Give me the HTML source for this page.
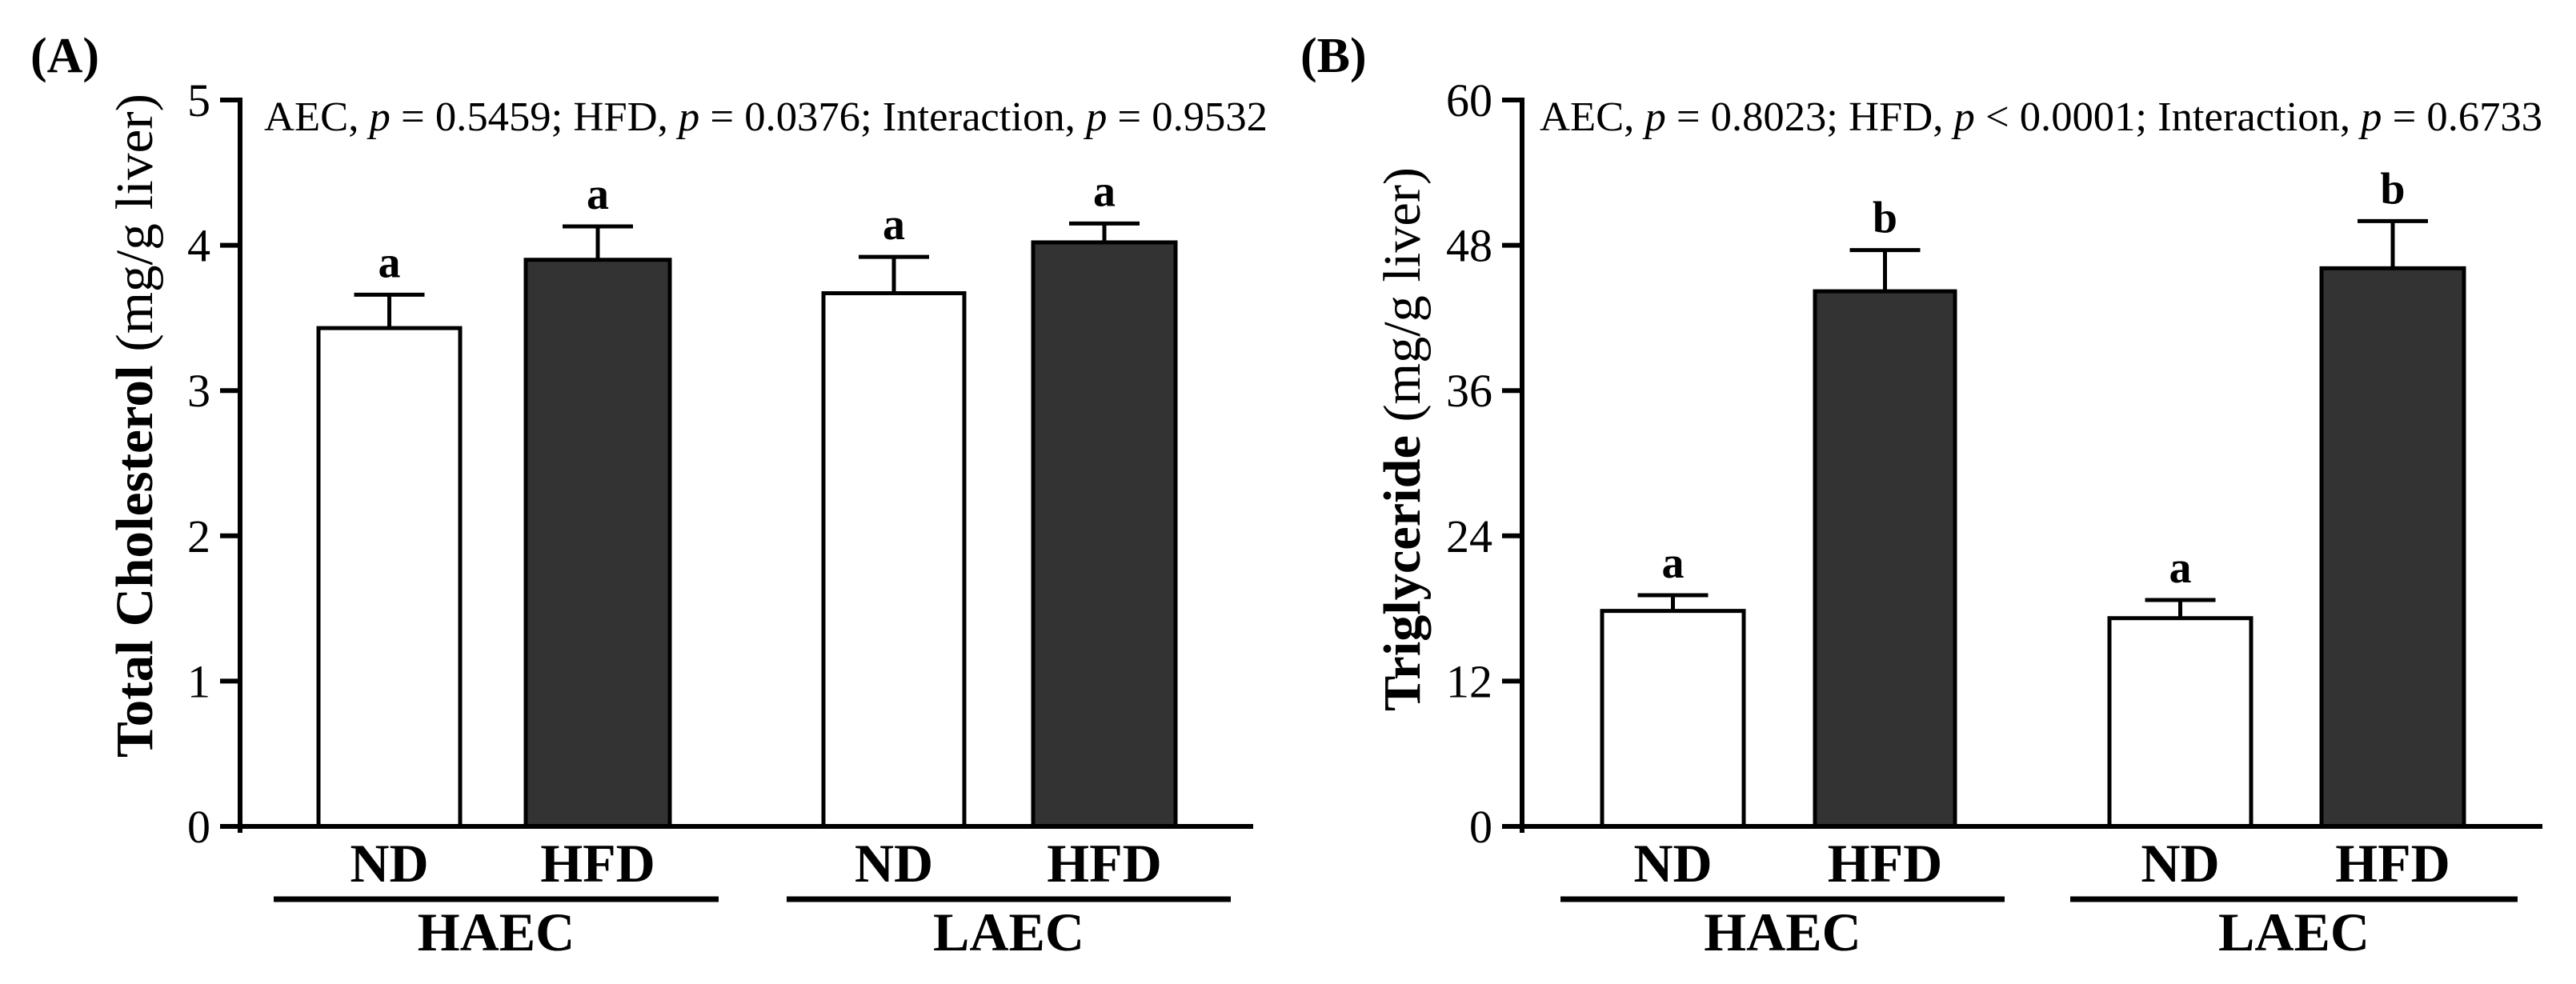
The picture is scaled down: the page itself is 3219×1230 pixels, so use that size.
<!DOCTYPE html>
<html><head><meta charset="utf-8"><style>
html,body{margin:0;padding:0;background:#fff;}
svg{display:block;font-family:"Liberation Serif","Times New Roman",serif;}
</style></head><body>
<svg id="fig" width="3219" height="1230" viewBox="0 0 3219 1230" xmlns="http://www.w3.org/2000/svg"></svg>
<script>
const groupsA = ["ND","HFD","ND","HFD"];
const valuesA = [3.43, 3.90, 3.67, 4.02];
const errorsA = [0.23, 0.23, 0.25, 0.13];
const lettersA = ["a","a","a","a"];
const ticksA = [0,1,2,3,4,5];
const valuesB = [17.8, 44.2, 17.2, 46.1];
const errorsB = [1.3, 3.4, 1.5, 3.9];
const lettersB = ["b","b","b","b"].map((x,i)=>["a","b","a","b"][i]);
const ticksB = [0,12,24,36,48,60];
const fills = ["#ffffff","#333333","#ffffff","#333333"];
const NS = "http://www.w3.org/2000/svg";
const svg = document.getElementById('fig');
function mk(tag, attrs, parent){const e=document.createElementNS(NS,tag);for(const k in attrs)e.setAttribute(k,attrs[k]);(parent||svg).appendChild(e);return e;}

function panel(cfg){
  const g = mk('g',{});
  
  
  const y0=1033, yTop=125, ax=cfg.ax, axEnd=cfg.axEnd, max=cfg.ticks[cfg.ticks.length-1];
  const Y = v => y0 - (v/max)*(y0-yTop);
  // panel letter
  const pl = mk('text',{x:cfg.labelX,y:90,'font-size':62,'font-weight':'bold'},g); pl.textContent=cfg.label;
  
  
  // bars
  cfg.values.forEach((v,i)=>{
    const [l,r]=cfg.barX[i];
    const bar = mk('rect',{x:l,y:Y(v),width:r-l,height:y0-Y(v),fill:fills[i],stroke:'#000','stroke-width':5},g);
    
    
    const cx=(l+r)/2, ye=Y(v+cfg.errors[i]);
    const eb = mk('path',{d:`M${cx},${Y(v)} V${ye} M${cx-44},${ye} H${cx+44}`,stroke:'#000','stroke-width':5,fill:'none'},g);
    
    
    const lt = mk('text',{x:cx,y:ye-22,'text-anchor':'middle','font-size':56,'font-weight':'bold'},g); lt.textContent=cfg.letters[i];
    
    
    const xl = mk('text',{x:cx,y:1102,'text-anchor':'middle','font-size':68,'font-weight':'bold'},g); xl.textContent=groupsA[i];
    
    
  });
  // axes
  const axes = mk('path',{d:`M${ax},${yTop-3} V${y0+8} M${ax-6},${y0} H${axEnd}`,stroke:'#000','stroke-width':6,fill:'none'},g);
  
  
  cfg.ticks.forEach(t=>{
    const tk = mk('line',{x1:ax-25,x2:ax,y1:Y(t),y2:Y(t),stroke:'#000','stroke-width':6},g);
    
    
    const tl = mk('text',{x:ax-37,y:Y(t)+20,'text-anchor':'end','font-size':58},g); tl.textContent=t;
    
    
  });
  // group lines
  cfg.groupLines.forEach((gl,i)=>{
    const ln = mk('line',{x1:gl[0],x2:gl[1],y1:1124,y2:1124,stroke:'#000','stroke-width':7},g);
    
    
    const gt = mk('text',{x:(gl[0]+gl[1])/2,y:1188,'text-anchor':'middle','font-size':68,'font-weight':'bold'},g); gt.textContent=i==0?'HAEC':'LAEC';
    
    
  });
  // stats text
  const st = mk('text',{x:cfg.statX,y:163,'font-size':52,textLength:cfg.statW,lengthAdjust:'spacingAndGlyphs'},g);
  st.innerHTML = cfg.stat;
  
  
  // y title
  const yt = mk('text',{x:0,y:0,'font-size':66,'text-anchor':'middle',transform:`translate(${cfg.titleX},${cfg.titleY}) rotate(-90)`,textLength:cfg.titleW,lengthAdjust:'spacingAndGlyphs'},g);
  yt.innerHTML = `<tspan font-weight="bold">${cfg.titleBold}</tspan> (mg/g liver)`;
  
  
}

panel({name:'panel-a-total-cholesterol',label:'(A)',labelX:38,ax:300,axEnd:1566,
  values:valuesA,errors:errorsA,letters:lettersA,ticks:ticksA,
  barX:[[398,575],[657,837],[1029,1205],[1291,1469]],
  groupLines:[[342,898],[983,1538]],
  statX:330,statW:1254,
  stat:'AEC, <tspan font-style="italic">p</tspan> = 0.5459; HFD, <tspan font-style="italic">p</tspan> = 0.0376; Interaction, <tspan font-style="italic">p</tspan> = 0.9532',
  titleX:190,titleY:532,titleW:830,titleBold:'Total Cholesterol'});

panel({name:'panel-b-triglyceride',label:'(B)',labelX:1625,ax:1902,axEnd:3177,
  values:valuesB,errors:errorsB,letters:lettersB,ticks:ticksB,
  barX:[[2002,2179],[2268,2443],[2636,2813],[2901,3079]],
  groupLines:[[1950,2505],[2587,3146]],
  statX:1924,statW:1253,
  stat:'AEC, <tspan font-style="italic">p</tspan> = 0.8023; HFD, <tspan font-style="italic">p</tspan> &lt; 0.0001; Interaction, <tspan font-style="italic">p</tspan> = 0.6733',
  titleX:1774,titleY:549,titleW:680,titleBold:'Triglyceride'});
</script>
</body></html>
